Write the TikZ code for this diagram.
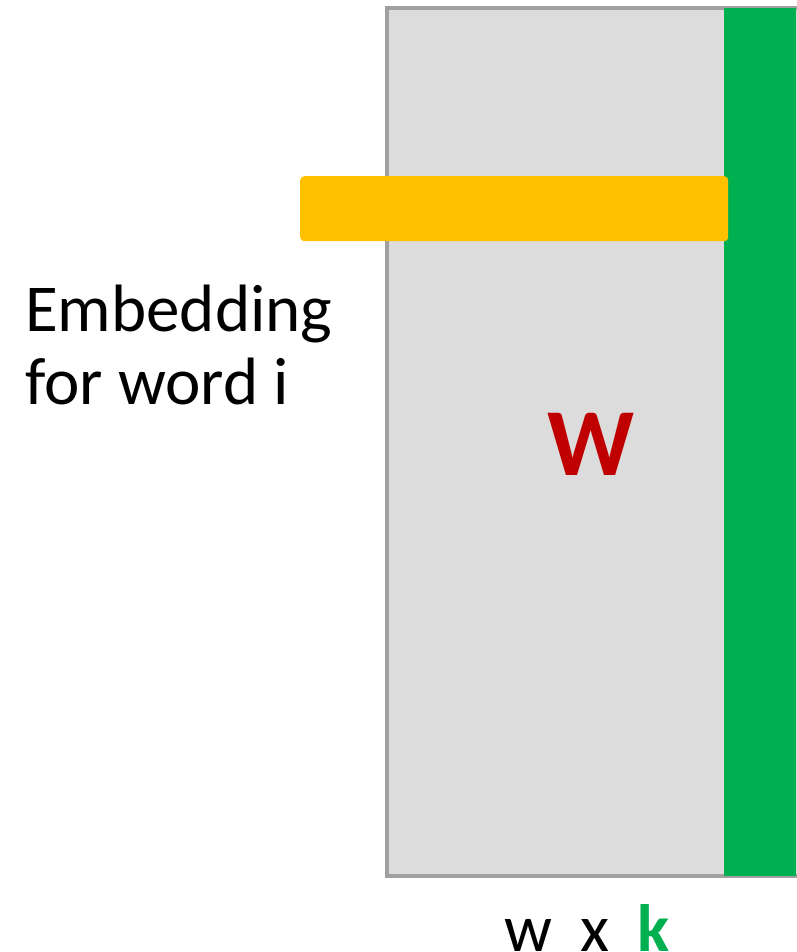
\documentclass[tikz,border=0pt]{standalone}
\usepackage{fontspec}
\setmainfont{Carlito}
\definecolor{matgray}{HTML}{DCDCDC}
\definecolor{matedge}{HTML}{A0A0A0}
\definecolor{ctxgreen}{HTML}{00B050}
\definecolor{embgold}{HTML}{FFC000}
\definecolor{wred}{HTML}{C00000}
\begin{document}
\begin{tikzpicture}[x=1pt,y=-1pt,
  label/.style={inner sep=0pt,font=\fontsize{67}{73}\selectfont,text=black}]
\useasboundingbox (0,0) rectangle (796,952);
% weight matrix W
\draw[matedge,line width=4pt,fill=matgray] (387,8) rectangle (820,876);
\fill[ctxgreen] (724,8) rectangle (796,876);
% embedding row for word i
\node[fill=embgold,rounded corners=4pt,minimum width=428pt,minimum height=65pt,inner sep=0pt,anchor=north west] (row) at (300,176) {};
\node[label,anchor=base west] (emb) at (25,331) {Embedding};
\node[label,anchor=base west] (emb2) at (25,404) {for word i};
\node[inner sep=0pt,font=\fontsize{96}{96}\selectfont\bfseries,text=wred,anchor=base] (W) at (591,475) {W};
\node[label,anchor=base west] (dims) at (504,951) {w\hspace{0.42em}x\hspace{0.42em}\textcolor{ctxgreen}{\bfseries k}};
\end{tikzpicture}
\end{document}
